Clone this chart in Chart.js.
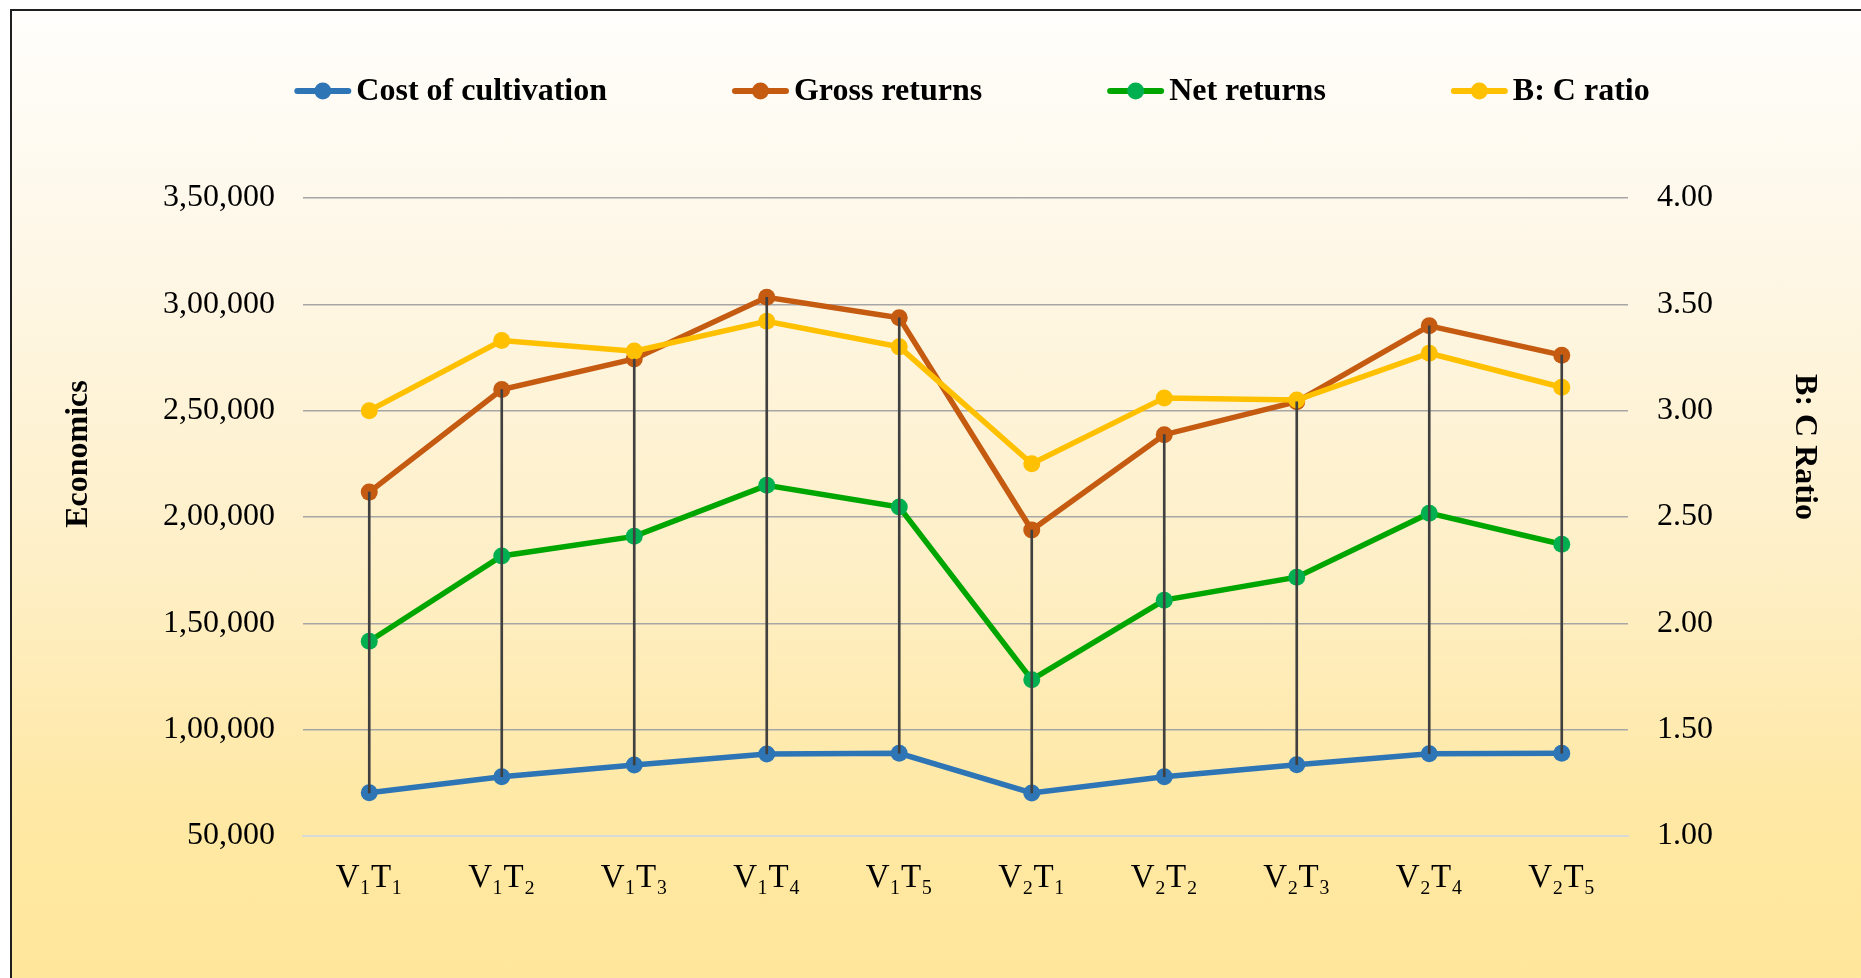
<!DOCTYPE html>
<html>
<head>
<meta charset="utf-8">
<script src="https://cdn.jsdelivr.net/npm/chart.js@4.4.1/dist/chart.umd.min.js"></script>
<style>
  html, body { margin: 0; padding: 0; width: 1861px; height: 978px; overflow: hidden; background: #fff; }
  #marco {
    position: absolute; left: 10px; top: 9px; width: 1930px; height: 1010px;
    border-top: 2px solid #1f1f1f; border-left: 2px solid #1f1f1f;
    background: linear-gradient(to bottom, #fffefc 0%, #fef7e6 25%, #feefc6 55%, #ffe8a3 80%, #ffe699 100%);
  }
  canvas { position: absolute; left: 0; top: 0; }
</style>
</head>
<body>
<div id="marco">
  <canvas id="grafica" width="1920" height="1000"></canvas>
</div>
<script>
const categorias = ["V₁T₁", "V₁T₂", "V₁T₃", "V₁T₄", "V₁T₅", "V₂T₁", "V₂T₂", "V₂T₃", "V₂T₄", "V₂T₅"];
const nombresSeries = ["Cost of cultivation", "Gross returns", "Net returns", "B: C ratio"];
const costoCultivo = [70300, 77850, 83400, 88600, 88900, 70250, 77850, 83500, 88700, 88900];
const ingresoBruto = [211700, 259900, 274300, 303300, 293700, 193900, 238700, 254200, 289900, 276100];
const ingresoNeto = [141600, 181700, 190900, 214900, 204700, 123500, 160900, 171700, 201800, 187200];
const relacionBC = [3.00, 3.33, 3.28, 3.42, 3.30, 2.75, 3.06, 3.05, 3.27, 3.11];
const tituloIzq = "Economics";
const tituloDer = "B: C Ratio";

const fuente = '"Liberation Serif", "Times New Roman", serif';

// formato indio: 3,50,000
function formatoIndio(v) {
  const s = String(Math.round(v));
  if (s.length <= 3) return s;
  const ult = s.slice(-3);
  const resto = s.slice(0, -3).replace(/\B(?=(\d{2})+(?!\d))/g, ",");
  return resto + "," + ult;
}

// leyenda y titulos de ejes dibujados a mano
const extras = {
  id: "extras",
  afterDraw(chart) {
    const ctx = chart.ctx;
    const area = chart.chartArea;
    ctx.save();
    ctx.font = "bold 32px " + fuente;
    ctx.fillStyle = "#000";
    ctx.textBaseline = "middle";
    ctx.textAlign = "left";

    const series = chart.data.datasets.filter(d => d.type === "line");
    const anchos = series.map(d => ctx.measureText(d.label).width);
    const largoMarca = 57, sepTexto = 5, sepItem = 125;
    const total = anchos.reduce((a, w) => a + largoMarca + sepTexto + w, 0) + sepItem * (series.length - 1);
    let x = chart.width / 2 - total / 2;
    const y = 80;
    series.forEach((d, i) => {
      ctx.strokeStyle = d.borderColor;
      ctx.lineWidth = 6;
      ctx.lineCap = "round";
      ctx.beginPath();
      ctx.moveTo(x + 3, y);
      ctx.lineTo(x + largoMarca - 3, y);
      ctx.stroke();
      ctx.fillStyle = d.pointBackgroundColor;
      ctx.beginPath();
      ctx.arc(x + largoMarca / 2, y, 8.5, 0, Math.PI * 2);
      ctx.fill();
      ctx.fillStyle = "#000";
      ctx.fillText(d.label, x + largoMarca + sepTexto, y + 1);
      x += largoMarca + sepTexto + anchos[i] + sepItem;
    });

    ctx.textAlign = "center";
    ctx.save();
    ctx.translate(area.left - 224, area.top + 256);
    ctx.rotate(-Math.PI / 2);
    ctx.fillText(tituloIzq, 0, 0);
    ctx.restore();

    ctx.save();
    ctx.translate(area.right + 176, area.top + 249);
    ctx.rotate(Math.PI / 2);
    ctx.fillText(tituloDer, 0, 0);
    ctx.restore();

    ctx.restore();
  }
};

const ctxGrafica = document.getElementById("grafica").getContext("2d");

const estiloLinea = { borderWidth: 5.5, pointRadius: 8.5, pointBorderWidth: 0, pointHoverRadius: 8.5 };

new Chart(ctxGrafica, {
  type: "line",
  data: {
    labels: categorias,
    datasets: [
      {
        type: "bar",
        label: "high-low",
        data: categorias.map((_, i) => [costoCultivo[i], ingresoBruto[i]]),
        backgroundColor: "#404040",
        barThickness: 2,
        yAxisID: "y",
        order: 0
      },
      {
        type: "line",
        label: nombresSeries[0],
        data: costoCultivo,
        borderColor: "#2e75b6",
        pointBackgroundColor: "#2e75b6",
        ...estiloLinea,
        yAxisID: "y",
        order: 4
      },
      {
        type: "line",
        label: nombresSeries[1],
        data: ingresoBruto,
        borderColor: "#c55a11",
        pointBackgroundColor: "#c55a11",
        ...estiloLinea,
        yAxisID: "y",
        order: 3
      },
      {
        type: "line",
        label: nombresSeries[2],
        data: ingresoNeto,
        borderColor: "#00a600",
        pointBackgroundColor: "#00b050",
        ...estiloLinea,
        yAxisID: "y",
        order: 2
      },
      {
        type: "line",
        label: nombresSeries[3],
        data: relacionBC,
        borderColor: "#ffc000",
        pointBackgroundColor: "#ffc000",
        ...estiloLinea,
        yAxisID: "y1",
        order: 1
      }
    ]
  },
  options: {
    responsive: false,
    animation: false,
    layout: { padding: { top: 187, bottom: 95, left: 0, right: 0 } },
    plugins: {
      legend: { display: false },
      tooltip: { enabled: false }
    },
    scales: {
      x: {
        offset: true,
        grid: { display: false, drawTicks: false },
        border: { display: true, color: "#d9d9d9", width: 2 },
        ticks: { color: "#000", font: { family: fuente, size: 33 }, padding: 23 },
        afterFit(s) { s.height = 80; }
      },
      y: {
        position: "left",
        min: 50000,
        max: 350000,
        ticks: { stepSize: 50000, callback: v => formatoIndio(v), color: "#000", font: { family: fuente, size: 32 }, padding: 28 },
        grid: {
          color: c => (c.tick && c.tick.value === 50000 ? "#d9d9d9" : "#a6a6a6"),
          lineWidth: 1.5,
          drawTicks: false
        },
        border: { display: false },
        afterFit(s) { s.width = 291; }
      },
      y1: {
        position: "right",
        min: 1,
        max: 4,
        ticks: { stepSize: 0.5, callback: v => Number(v).toFixed(2), color: "#000", font: { family: fuente, size: 32 }, padding: 29 },
        grid: { drawOnChartArea: false, drawTicks: false },
        border: { display: false },
        afterFit(s) { s.width = 304; }
      }
    }
  },
  plugins: [extras]
});
</script>
</body>
</html>
